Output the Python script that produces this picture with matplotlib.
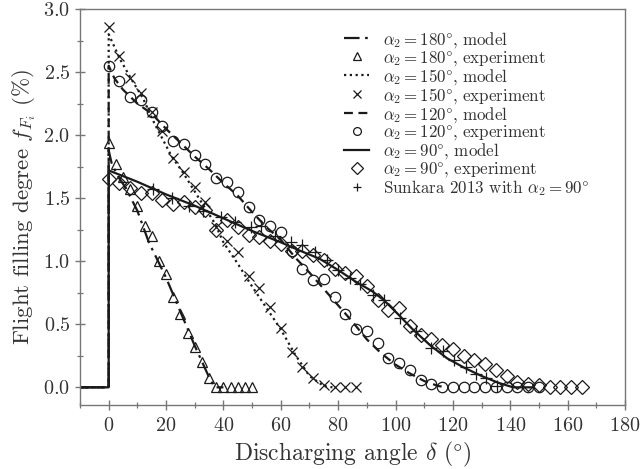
import matplotlib
matplotlib.use("Agg")
import matplotlib.pyplot as plt
from matplotlib.ticker import MultipleLocator

plt.rcParams['font.family'] = 'serif'
plt.rcParams['font.serif'] = ['cmr10', 'DejaVu Serif']
plt.rcParams['mathtext.fontset'] = 'cm'
plt.rcParams['axes.formatter.use_mathtext'] = True

# ---- model curves ----
m180_x = [-10, 0, 0, 1, 3, 6, 10, 14, 20, 25, 30, 35, 37, 40]
m180_y = [0, 0, 1.88, 1.78, 1.68, 1.58, 1.40, 1.15, 0.87, 0.60, 0.33, 0.08, 0.0, 0.0]

m150_x = [-10, 0, 0, 2, 4, 8, 12, 16, 22, 26, 32, 37, 40, 45, 50, 55, 60, 65, 70, 75, 78]
m150_y = [0, 0, 2.80, 2.70, 2.60, 2.44, 2.29, 2.09, 1.83, 1.70, 1.48, 1.30, 1.15, 0.98, 0.80, 0.63, 0.46, 0.26, 0.09, 0.01, 0.0]

m120_x = [-10, 0, 0, 2, 5, 10, 15, 20, 25, 30, 35, 40, 45, 50, 55, 60, 65, 70, 75, 80, 85, 90, 95,
          100, 105, 110, 115, 118]
m120_y = [0, 0, 2.55, 2.45, 2.36, 2.25, 2.17, 2.05, 1.94, 1.83, 1.73, 1.62, 1.52, 1.39, 1.27, 1.17,
          1.03, 0.91, 0.78, 0.65, 0.52, 0.38, 0.27, 0.18, 0.11, 0.05, 0.01, 0.0]

m90_x = [-10, 0, 0, 10, 20, 30, 40, 50, 60, 66, 73.5, 80, 86, 92, 96, 100, 106, 112, 118, 124, 130,
         136, 141, 148]
m90_y = [0, 0, 1.72, 1.63, 1.53, 1.44, 1.34, 1.24, 1.15, 1.09, 1.02, 0.93, 0.84, 0.76, 0.69, 0.60,
         0.46, 0.335, 0.23, 0.155, 0.09, 0.035, 0.0, 0.0]

# ---- experiments ----
e180_x = [0, 2.5, 5, 7.5, 10, 12.5, 15, 17.5, 20, 22.5, 25, 27.5, 30, 32.5, 35, 37.5, 40, 42.5, 45, 47.5, 50]
e180_y = [1.94, 1.77, 1.67, 1.57, 1.44, 1.28, 1.20, 1.00, 0.90, 0.72, 0.58, 0.43, 0.32, 0.20, 0.07,
          0.0, 0.0, 0.0, 0.0, 0.0, 0.0]

e150_x = [0, 3.75, 7.5, 11.25, 15, 18.75, 22.5, 26.25, 30, 33.75, 37.5, 41.25, 45, 48.75, 52.5, 56.25,
          60, 63.75, 67.5, 71.25, 75, 78.75, 82.5, 86.25]
e150_y = [2.86, 2.63, 2.45, 2.33, 2.18, 2.03, 1.82, 1.71, 1.59, 1.47, 1.27, 1.16, 1.075, 0.88, 0.785,
          0.64, 0.47, 0.28, 0.165, 0.07, 0.02, 0.0, 0.0, 0.0]

e120_x = [0, 3.75, 7.5, 11.25, 15, 18.75, 22.5, 26.25, 30, 33.75, 37.5, 41.25, 45, 48.75, 52.5, 56.25,
          60, 63.75, 67.5, 71.25, 75, 78.75, 82.5, 86.25, 90, 93.75, 97.5, 101.25, 105, 108.75, 112.5,
          116.25, 120, 123.75, 127.5, 131.25, 135, 138.75, 142.5, 146.25, 150]
e120_y = [2.55, 2.43, 2.30, 2.28, 2.18, 2.07, 1.95, 1.93, 1.84, 1.77, 1.66, 1.63, 1.55, 1.43, 1.33, 1.28,
          1.23, 1.08, 0.94, 0.85, 0.86, 0.72, 0.585, 0.46, 0.45, 0.35, 0.23, 0.195, 0.14, 0.06, 0.025,
          0.005, 0.0, 0.0, 0.0, 0.0, 0.0, 0.0, 0.0, 0.0, 0.0]

e90_x = [0, 3.75, 7.5, 11.25, 15, 18.75, 22.5, 26.25, 30, 33.75, 37.5, 41.25, 45, 48.75, 52.5, 56.25,
         60, 63.75, 67.5, 71.25, 75, 78.75, 82.5, 86.25, 90, 93.75, 97.5, 101.25, 105, 108.75, 112.5,
         116.25, 120, 123.75, 127.5, 131.25, 135, 138.75, 142.5, 146.25, 150, 153.75, 157.5, 161.25, 165]
e90_y = [1.65, 1.62, 1.58, 1.54, 1.54, 1.485, 1.45, 1.47, 1.43, 1.41, 1.25, 1.33, 1.27, 1.21, 1.19, 1.16,
         1.14, 1.08, 1.08, 1.05, 1.01, 0.94, 0.91, 0.88, 0.80, 0.69, 0.61, 0.63, 0.49, 0.415, 0.38,
         0.335, 0.30, 0.25, 0.22, 0.185, 0.137, 0.09, 0.045, 0.03, 0.02, 0.0, 0.0, 0.0, 0.0]

sun_x = [15.5, 22, 28, 33, 39, 44, 49.5, 53, 58, 63.5, 67.5, 72, 76, 80, 84, 87.5, 92, 96, 101.5, 107,
         112.5, 116.5, 120.5, 124.5, 128, 131.5, 135.3]
sun_y = [1.57, 1.50, 1.44, 1.40, 1.35, 1.31, 1.27, 1.28, 1.20, 1.155, 1.13, 1.07, 1.01, 0.93, 0.87, 0.82,
         0.73, 0.69, 0.55, 0.45, 0.31, 0.29, 0.22, 0.16, 0.105, 0.07, 0.01]

fig = plt.figure(figsize=(6.41, 4.69), dpi=100)
ax = fig.add_axes([0.1248, 0.1365, 0.8502, 0.8443])

lc = '#1a1a1a'
mk = dict(linestyle='none', markerfacecolor='none', markeredgecolor=lc, markeredgewidth=0.9)

ax.plot(m180_x, m180_y, color=lc, lw=1.6, dashes=[7, 2.5, 1.2, 2.5], label=r'$\alpha_2 = 180\degree$, model')
ax.plot(e180_x, e180_y, marker='^', markersize=7, label=r'$\alpha_2 = 180\degree$, experiment', **mk)
ax.plot(m150_x, m150_y, color=lc, lw=1.6, linestyle=(0, (1, 1.6)), label=r'$\alpha_2 = 150\degree$, model')
ax.plot(e150_x, e150_y, marker='x', markersize=7, label=r'$\alpha_2 = 150\degree$, experiment', **mk)
ax.plot(m120_x, m120_y, color=lc, lw=1.6, dashes=[4, 2.5], label=r'$\alpha_2 = 120\degree$, model')
ax.plot(e120_x, e120_y, marker='o', markersize=7.5, label=r'$\alpha_2 = 120\degree$, experiment', **mk)
ax.plot(m90_x, m90_y, color=lc, lw=1.6, linestyle='-', label=r'$\alpha_2 = 90\degree$, model')
ax.plot(e90_x, e90_y, marker='D', markersize=7.5, label=r'$\alpha_2 = 90\degree$, experiment', **mk)
ax.plot(sun_x, sun_y, marker='+', markersize=8, label=r'Sunkara 2013 with $\alpha_2 = 90\degree$', **mk)

ax.set_xlim(-10, 180)
ax.set_ylim(-0.14, 3.0)
ax.xaxis.set_major_locator(MultipleLocator(20))
ax.xaxis.set_minor_locator(MultipleLocator(10))
ax.yaxis.set_major_locator(MultipleLocator(0.5))
ax.yaxis.set_minor_locator(MultipleLocator(0.25))
ax.set_xticks(range(0, 181, 20))
ax.set_xlim(-10, 180)

gray = '#777777'
txt = '#333333'
for s in ax.spines.values():
    s.set_color(gray)
    s.set_linewidth(1.0)
ax.tick_params(which='both', direction='inout', colors=gray, labelcolor=txt, labelsize=14.5)
ax.tick_params(which='major', length=7, width=1.0)
ax.tick_params(which='minor', length=5, width=0.9)
ax.tick_params(axis='x', pad=5)

ax.set_xlabel(r'Discharging angle $\delta$ ($\degree$)', fontsize=17, color=txt)
ax.set_ylabel(r'Flight filling degree $f_{F_i}$ (%)', fontsize=16.5, color=txt)

leg = ax.legend(loc='upper right', frameon=False, fontsize=12.2, handlelength=1.5,
                labelspacing=-0.06, borderaxespad=0.6, bbox_to_anchor=(0.965, 0.99),
                markerscale=0.75)
for t in leg.get_texts():
    t.set_color(txt)

fig.savefig('out.png', dpi=100)
